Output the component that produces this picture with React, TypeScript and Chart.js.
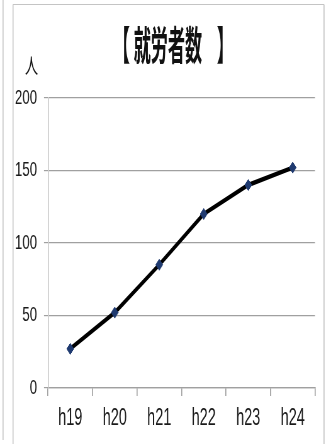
import React, { useEffect, useRef } from "react";
import { Chart, registerables } from "chart.js";

Chart.register(...registerables);

const titleOpen = "【";
const titleWord = "就労者数";
const titleClose = "】";
const unitLabel = "人";
const categories = ["h19", "h20", "h21", "h22", "h23", "h24"];
const workers = [27, 52, 85, 120, 140, 152];
const yMin = 0;
const yMax = 200;
const yStep = 50;

const SX = 0.6293;
const TITLE_K = 0.68;
const W = 518;
const H = 444;

function drawCentered(ctx: any, text: string, screenX: number, y: number, k = 1) {
  ctx.save();
  ctx.scale(k, 1);
  ctx.textAlign = "center";
  ctx.fillText(text, screenX / SX / k, y);
  ctx.restore();
}

const framePlugin = {
  id: "frame",
  beforeDraw(chart: any) {
    const ctx = chart.ctx;
    ctx.save();
    ctx.fillStyle = "#ffffff";
    ctx.fillRect(0, 0, W, H);
    ctx.strokeStyle = "#c4c4c4";
    ctx.lineWidth = 1;
    ctx.beginPath();
    ctx.moveTo(20.7, 4.5);
    ctx.lineTo(514.9, 4.5);
    ctx.stroke();
    ctx.lineWidth = 1.6;
    ctx.beginPath();
    ctx.moveTo(20.7, 4.5);
    ctx.lineTo(20.7, H);
    ctx.moveTo(514.9, 4.5);
    ctx.lineTo(514.9, H);
    ctx.moveTo(4.8, 0);
    ctx.lineTo(4.8, 440);
    ctx.stroke();
    ctx.restore();
  },
  afterDraw(chart: any) {
    const ctx = chart.ctx;
    ctx.save();
    ctx.fillStyle = "#111111";
    ctx.textBaseline = "middle";
    ctx.font = "bold 40px 'Noto Sans CJK JP'";
    drawCentered(ctx, titleOpen, 121.3, 45, TITLE_K);
    drawCentered(ctx, titleWord, 167.9, 45, TITLE_K);
    drawCentered(ctx, titleClose, 225.4, 45, TITLE_K);
    ctx.font = "21px 'Noto Sans CJK JP'";
    drawCentered(ctx, unitLabel, 31.5, 65);
    ctx.restore();
  },
};

export default function App() {
  const ref = useRef<HTMLCanvasElement>(null);
  useEffect(() => {
    if (!ref.current) return;
    const chart = new Chart(ref.current, {
      type: "line",
      data: {
        labels: categories,
        datasets: [
          {
            data: workers,
            borderColor: "#000000",
            borderWidth: 4.5,
            pointStyle: "rectRot",
            pointRadius: 5.5,
            pointBackgroundColor: "#1f3a70",
            pointBorderColor: "#1f3a70",
            pointBorderWidth: 1,
            tension: 0,
            fill: false,
          },
        ],
      },
      plugins: [framePlugin],
      options: {
        responsive: false,
        animation: false,
        devicePixelRatio: 1,
        layout: { padding: { top: 98, right: 17.5, left: 0, bottom: 0 } },
        plugins: {
          legend: { display: false },
          title: { display: false },
          tooltip: { enabled: false },
        },
        scales: {
          x: {
            type: "category",
            offset: true,
            afterFit: (s: any) => {
              s.height = 56;
            },
            grid: {
              display: true,
              drawOnChartArea: false,
              drawTicks: true,
              tickLength: 8,
              color: "#a0a0a0",
              lineWidth: 1.6,
              offset: true,
            },
            border: { display: true, color: "#a0a0a0", width: 1.2 },
            ticks: {
              color: "#1a1a1a",
              font: { family: "'Liberation Sans'", size: 23 },
              padding: 9,
              maxRotation: 0,
              autoSkip: false,
            },
          },
          y: {
            min: yMin,
            max: yMax,
            afterFit: (s: any) => {
              s.width = 76.3;
            },
            grid: {
              color: "#a0a0a0",
              lineWidth: 1.2,
              tickLength: 6.4,
            },
            border: { display: true, color: "#c8c8c8", width: 1.6 },
            ticks: {
              stepSize: yStep,
              color: "#1a1a1a",
              font: { family: "'Liberation Sans'", size: 21 },
              padding: 11,
            },
          },
        },
      },
    });
    return () => chart.destroy();
  }, []);
  return (
    <div
      style={{
        position: "absolute",
        left: 0,
        top: 0,
        width: 326,
        height: 444,
        overflow: "hidden",
        background: "#fff",
      }}
    >
      <canvas
        ref={ref}
        width={W}
        height={H}
        style={{
          width: W,
          height: H,
          transform: `scaleX(${SX})`,
          transformOrigin: "0 0",
          display: "block",
        }}
      />
    </div>
  );
}
